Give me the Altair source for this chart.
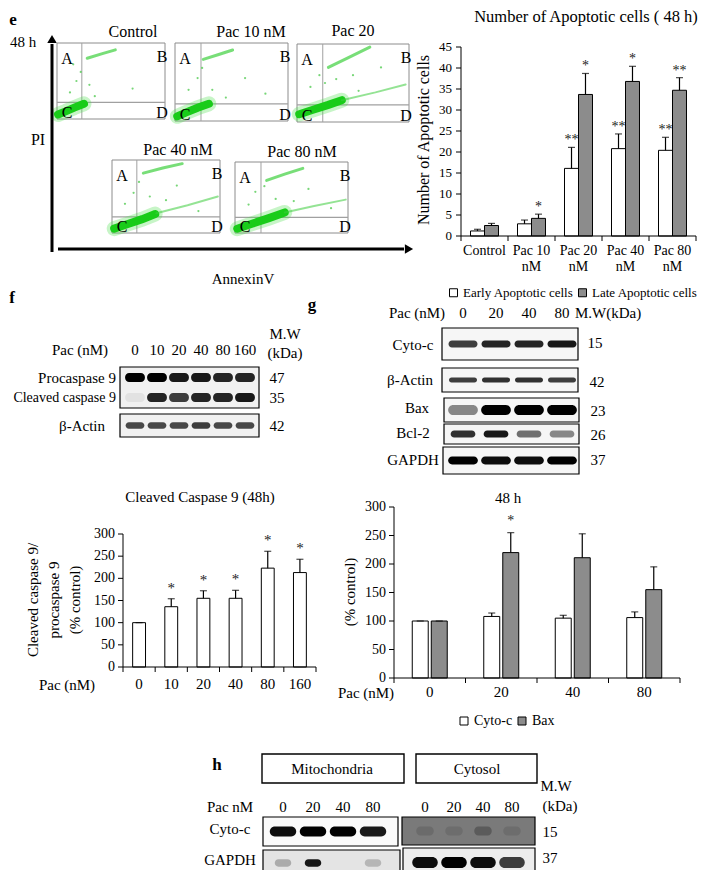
import altair as alt
import pandas as pd

W, H = 692, 862
FONT = "Liberation Serif"


def P(v):
    return v - 8


one = pd.DataFrame({"k": [0]})

# ---------------- data ----------------
flow_titles = ["Control", "Pac 10 nM", "Pac 20", "Pac 40 nM", "Pac 80 nM"]
flow_core = [
    [(0.01, 0.06), (0.08, 0.10), (0.16, 0.15), (0.25, 0.20)],
    [(0.02, 0.06), (0.10, 0.11), (0.20, 0.17), (0.30, 0.22)],
    [(0.02, 0.10), (0.15, 0.16), (0.28, 0.22), (0.40, 0.28)],
    [(0.02, 0.06), (0.14, 0.12), (0.28, 0.19), (0.40, 0.26)],
    [(0.02, 0.06), (0.15, 0.13), (0.30, 0.21), (0.44, 0.29)],
]
flow_upper = [
    [(0.28, 0.80), (0.42, 0.86), (0.54, 0.91)],
    [(0.25, 0.79), (0.38, 0.85), (0.51, 0.91)],
    [(0.28, 0.70), (0.45, 0.82), (0.65, 0.96)],
    [(0.29, 0.82), (0.47, 0.89), (0.65, 0.95)],
    [(0.28, 0.74), (0.44, 0.83), (0.60, 0.91)],
]
flow_lower = [
    [],
    [],
    [(0.40, 0.28), (0.70, 0.38), (0.97, 0.48)],
    [(0.41, 0.27), (0.70, 0.38), (0.98, 0.50)],
    [(0.44, 0.29), (0.70, 0.38), (0.98, 0.47)],
]
flow_spray = [
    [(0.12, 0.35), (0.18, 0.50), (0.22, 0.62), (0.30, 0.45), (0.15, 0.72), (0.35, 0.30), (0.70, 0.40)],
    [(0.12, 0.40), (0.20, 0.55), (0.24, 0.68), (0.33, 0.40), (0.45, 0.30), (0.80, 0.35), (0.62, 0.55)],
    [(0.12, 0.45), (0.20, 0.60), (0.25, 0.50), (0.35, 0.55), (0.50, 0.60), (0.55, 0.40), (0.75, 0.70)],
    [(0.12, 0.40), (0.20, 0.55), (0.25, 0.70), (0.35, 0.50), (0.50, 0.45), (0.60, 0.65), (0.80, 0.30)],
    [(0.12, 0.40), (0.18, 0.58), (0.26, 0.66), (0.36, 0.48), (0.52, 0.45), (0.65, 0.62), (0.85, 0.35)],
]
flow_title_xy = [(133, 32), (251, 32), (353, 31), (178, 150), (302, 152)]

e_groups = ["Control", "Pac 10 nM", "Pac 20 nM", "Pac 40 nM", "Pac 80 nM"]
e_types = ["Early Apoptotic cells", "Late Apoptotic cells"]
e_early = [1.2, 2.9, 16.1, 20.8, 20.4]
e_early_err = [0.4, 0.9, 5.0, 3.5, 3.1]
e_late = [2.5, 4.2, 33.7, 36.8, 34.7]
e_late_err = [0.5, 1.0, 5.0, 3.6, 3.0]
e_early_sig = ["", "", "**", "**", "**"]
e_late_sig = ["", "*", "*", "*", "**"]
e_yticks = [0, 5, 10, 15, 20, 25, 30, 35, 40, 45]

f_doses = ["0", "10", "20", "40", "80", "160"]
f_vals = [100, 136, 155, 155, 223, 213]
f_err = [0, 18, 17, 18, 38, 30]
f_sig = ["", "*", "*", "*", "*", "*"]
f_yticks = [0, 50, 100, 150, 200, 250, 300]

g_doses = ["0", "20", "40", "80"]
g_types = ["Cyto-c", "Bax"]
g_cyto = [100, 108, 105, 106]
g_cyto_err = [0, 6, 5, 10]
g_bax = [100, 220, 211, 155]
g_bax_err = [0, 35, 42, 40]
g_cyto_sig = ["", "", "", ""]
g_bax_sig = ["", "*", "", ""]
g_yticks = [0, 50, 100, 150, 200, 250, 300]

# blot band intensities (0..1)
f_pro = [1.0, 1.0, 0.9, 0.9, 0.85, 0.85]
f_cleaved = [0.06, 0.85, 0.75, 0.85, 0.85, 0.9]
f_actin = [0.7, 0.7, 0.7, 0.75, 0.7, 0.7]
g_blot_cytoc = [0.75, 0.85, 0.85, 0.9]
g_blot_actin = [0.75, 0.8, 0.8, 0.75]
g_blot_bax = [0.45, 1.0, 1.0, 1.0]
g_blot_bcl2 = [0.8, 0.9, 0.55, 0.45]
g_blot_gapdh = [1.0, 0.95, 0.95, 1.0]
h_lanes = ["0", "20", "40", "80"]
h_mito_cytoc = [0.95, 1.0, 1.0, 0.9]
h_mito_gapdh = [0.25, 0.9, 0.0, 0.2]
h_cyto_cytoc = [0.12, 0.1, 0.25, 0.1]
h_cyto_gapdh = [0.95, 1.0, 0.95, 0.75]


# ---------------- helpers ----------------
def label(txt, x, y, size=15, align="center", weight="normal", color="black", angle=0):
    return alt.Chart(one).mark_text(
        text=txt, font=FONT, fontSize=size, align=align, baseline="middle",
        fontWeight=weight, color=color, angle=angle,
    ).encode(x=alt.value(P(x)), y=alt.value(P(y)))


def box(x0, x1, y0, y1, fill="white", stroke="black", sw=1.2):
    return alt.Chart(one).mark_rect(fill=fill, stroke=stroke, strokeWidth=sw).encode(
        x=alt.value(P(x0)), x2=alt.value(P(x1)), y=alt.value(P(y0)), y2=alt.value(P(y1))
    )


def vline(x, y0, y1, color="black", sw=1):
    return alt.Chart(one).mark_rule(color=color, strokeWidth=sw).encode(
        x=alt.value(P(x)), y=alt.value(P(y0)), y2=alt.value(P(y1))
    )


def hline(y, x0, x1, color="black", sw=1):
    return alt.Chart(one).mark_rule(color=color, strokeWidth=sw).encode(
        y=alt.value(P(y)), x=alt.value(P(x0)), x2=alt.value(P(x1))
    )


def arrow_head(x, y, shape):
    return alt.Chart(one).mark_point(shape=shape, filled=True, color="black", size=90, opacity=1).encode(
        x=alt.value(P(x)), y=alt.value(P(y))
    )


flow_boxes = [(57, 165, 43, 119), (175, 288, 43, 121), (297, 409, 44, 122),
              (112, 220, 160, 233), (235, 348, 162, 233)]


def flow_panel(i):
    x0, x1, y0, y1 = flow_boxes[i]
    w, h = x1 - x0, y1 - y0
    recs = []
    for kind, traces in (("core", flow_core), ("upper", flow_upper), ("lower", flow_lower),
                         ("spray", flow_spray)):
        for o, (fx, fy) in enumerate(traces[i]):
            recs.append({"kind": kind, "o": o, "fx": fx, "fy": fy})
    df = pd.DataFrame(recs)
    xs = alt.X("fx:Q", scale=alt.Scale(domain=[0, 1], range=[P(x0), P(x1)], nice=False, zero=False), axis=None)
    ys = alt.Y("fy:Q", scale=alt.Scale(domain=[0, 1], range=[P(y1), P(y0)], nice=False, zero=False), axis=None)
    base = alt.Chart(df).encode(x=xs, y=ys, order="o:Q")
    layers = [
        box(x0, x1, y0, y1, fill="white", stroke="#8c8c8c", sw=1),
        vline(x0 + 0.23 * w, y0, y1, "#a0a0a0", 1),
        hline(y1 - 0.22 * h, x0, x1, "#a0a0a0", 1.2),
        base.transform_filter("datum.kind == 'spray'").mark_circle(color="#55cc55", size=5, opacity=0.8),
        base.transform_filter("datum.kind == 'core'").mark_line(
            color="#44dd44", strokeWidth=15, opacity=0.3, strokeCap="round"),
        base.transform_filter("datum.kind == 'core'").mark_line(
            color="#19cc19", strokeWidth=8, strokeCap="round"),
        base.transform_filter("datum.kind == 'upper'").mark_line(
            color="#2fcc2f", strokeWidth=3, opacity=0.65, strokeCap="round"),
    ]
    if flow_lower[i]:
        layers.append(base.transform_filter("datum.kind == 'lower'").mark_line(
            color="#3ccc3c", strokeWidth=2, opacity=0.55, strokeCap="round"))
    tx, ty = flow_title_xy[i]
    layers += [
        label("A", x0 + 10, y0 + 16, 16),
        label("B", x1 - 3, y0 + 14, 16),
        label("C", x0 + 10, y1 - 6, 16),
        label("D", x1 - 3, y1 - 6, 16),
        label(flow_titles[i], tx, ty, 16),
    ]
    return alt.layer(*layers)


def single_row_pad(frac):
    """paddings of a one-band scale so that the band covers `frac` of the range"""
    if frac >= 1 / 3:
        return 0.0, (1 / frac - 1) / 2
    return 1 - 2 * frac / (1 - frac), 1.0


def blot(lanes, rows, vals, bx, centers, bg="#f6f6f6", lane_pi=0.12, thick=0.3, row_pads=None,
         lane_label_y=None, radius=4):
    x0, x1, y0, y1 = bx
    c0, c1 = centers
    n = len(lanes)
    step = (c1 - c0) / (n - 1)
    recs = [{"lane": l, "row": r, "v": v} for r, vs in zip(rows, vals) for l, v in zip(lanes, vs)]
    df = pd.DataFrame(recs)
    xsc = alt.Scale(domain=lanes, range=[P(c0 - step / 2), P(c1 + step / 2)],
                    paddingInner=lane_pi, paddingOuter=lane_pi / 2)
    rpi, rpo = row_pads if row_pads else single_row_pad(thick)
    ysc = alt.Scale(domain=rows, range=[P(y0), P(y1)], paddingInner=rpi, paddingOuter=rpo)
    bands = alt.Chart(df).mark_rect(color="black", cornerRadius=radius).encode(
        x=alt.X("lane:N", scale=xsc, axis=None),
        y=alt.Y("row:N", scale=ysc, axis=None),
        opacity=alt.Opacity("v:Q", scale=None),
    )
    layers = [box(x0, x1, y0, y1, fill=bg), bands]
    if lane_label_y is not None:
        ldf = pd.DataFrame({"lane": lanes})
        layers.append(alt.Chart(ldf).mark_text(font=FONT, fontSize=15, color="black").encode(
            x=alt.X("lane:N", scale=xsc, axis=None),
            y=alt.value(P(lane_label_y)),
            text="lane:N",
        ))
    return alt.layer(*layers)


def axis_layers(groups, xsc, ysc, yticks, xr, y0px, y1px, size, xlab_top, xsize=None, line_h=16, ylab_gap=8):
    """Excel-like axes drawn through the chart's own scales."""
    x0, x1 = xr
    tdf = pd.DataFrame({"t": yticks})
    gdf = pd.DataFrame({"g": groups, "lab": [g.replace(" nM", "\nnM") for g in groups]})
    return [
        vline(x0, y1px, y0px, "black", 1),
        hline(y0px, x0, x1, "black", 1),
        alt.Chart(tdf).mark_rule(color="black", strokeWidth=1).encode(
            y=alt.Y("t:Q", scale=ysc, axis=None), x=alt.value(P(x0 - 5)), x2=alt.value(P(x0))),
        alt.Chart(tdf).mark_text(font=FONT, fontSize=size, align="right", baseline="middle", color="black").encode(
            y=alt.Y("t:Q", scale=ysc, axis=None), x=alt.value(P(x0 - ylab_gap)), text="t:Q"),
        alt.Chart(gdf).mark_rule(color="black", strokeWidth=1).encode(
            x=alt.X("g:N", scale=xsc, axis=None, bandPosition=0), y=alt.value(P(y0px)), y2=alt.value(P(y0px + 5))),
        vline(x1, y0px, y0px + 5, "black", 1),
        alt.Chart(gdf).mark_text(font=FONT, fontSize=xsize or size, align="center", baseline="top", lineBreak="\n",
                                 lineHeight=line_h, color="black").encode(
            x=alt.X("g:N", scale=xsc, axis=None), y=alt.value(P(xlab_top)), text="lab:N"),
    ]


def grouped_bars(groups, types, vals_list, err_list, sig_list, xr, y0px, y1px, ymax, yticks,
                 colors, pin, pout, legend_xy, size=14, xsize=None, xlab_top=None, star_dy=-3,
                 legend_size=14, ylab_gap=8):
    rows = []
    for t, vals, errs, sigs in zip(types, vals_list, err_list, sig_list):
        for g, v, e, s in zip(groups, vals, errs, sigs):
            rows.append({"group": g, "type": t, "val": v, "top": v + e, "sig": s})
    df = pd.DataFrame(rows)
    xsc = alt.Scale(domain=groups, range=[P(xr[0]), P(xr[1])], paddingInner=0, paddingOuter=0)
    xosc = alt.Scale(domain=types, paddingInner=pin, paddingOuter=pout)
    ysc = alt.Scale(domain=[0, ymax], range=[P(y0px), P(y1px)], nice=False, zero=True)
    enc = dict(x=alt.X("group:N", scale=xsc, axis=None), xOffset=alt.XOffset("type:N", scale=xosc))
    bars = alt.Chart(df).mark_bar(stroke="black", strokeWidth=1).encode(
        y=alt.Y("val:Q", scale=ysc, axis=None),
        color=alt.Color("type:N", scale=alt.Scale(domain=types, range=colors),
                        legend=alt.Legend(orient="none", legendX=P(legend_xy[0]), legendY=P(legend_xy[1]),
                                          direction="horizontal", title=None, symbolType="square",
                                          symbolStrokeColor="black", symbolStrokeWidth=1, symbolSize=64,
                                          labelFontSize=legend_size, columnPadding=2, labelOffset=3,
                                          padding=0)),
        **enc,
    )
    rules = alt.Chart(df).mark_rule(color="black", strokeWidth=1.2).encode(
        y=alt.Y("val:Q", scale=ysc, axis=None), y2="top:Q", **enc)
    caps = alt.Chart(df).mark_tick(color="black", thickness=1.2, size=7).encode(
        y=alt.Y("top:Q", scale=ysc, axis=None), **enc)
    stars = alt.Chart(df).mark_text(font=FONT, fontSize=14, baseline="alphabetic", dy=star_dy,
                                    color="#222222").encode(
        y=alt.Y("top:Q", scale=ysc, axis=None), text="sig:N", **enc)
    ax = axis_layers(groups, xsc, ysc, yticks, xr, y0px, y1px, size, xlab_top, xsize=xsize, ylab_gap=ylab_gap)
    return alt.layer(bars, rules, caps, stars, *ax)


# ---------------- panel e ----------------
layers = []
for i in range(5):
    layers.append(flow_panel(i))
layers += [
    vline(52, 252, 44, "black", 3), arrow_head(52, 39, "triangle-up"),
    hline(249, 58, 404, "black", 3), arrow_head(409, 249, "triangle-right"),
    label("e", 13, 20, 17, weight="bold"),
    label("48 h", 23, 42, 15),
    label("PI", 38, 140, 16),
    label("AnnexinV", 243, 279, 15),
    label("Number of  Apoptotic cells ( 48 h)", 586, 17, 16.5),
    label("Number of Apoptotic cells", 424, 140, 16, angle=270),
]
layers.append(grouped_bars(
    e_groups, e_types, [e_early, e_late], [e_early_err, e_late_err], [e_early_sig, e_late_sig],
    (461, 696), 236, 47, 45, e_yticks, ["white", "#8c8c8c"], 0, 0.68, (447, 286),
    size=13, xsize=14, xlab_top=244, star_dy=-3, legend_size=13, ylab_gap=9,
))

# ---------------- panel f ----------------
layers += [
    label("f", 12, 298, 17, weight="bold"),
    label("Pac (nM)", 80, 350, 15),
    label("M.W", 285, 334, 15),
    label("(kDa)", 285, 353, 15),
    blot(f_doses, ["Procaspase 9", "Cleaved caspase 9"], [f_pro, f_cleaved], (120, 259, 367, 408),
         (135, 245), bg="#f1f1f1", lane_pi=0.1, row_pads=(0.55, 0.3), lane_label_y=350),
    blot(f_doses, ["β-Actin"], [f_actin], (120, 259, 414, 437), (135, 245), bg="#f1f1f1",
         lane_pi=0.15, thick=0.28),
    label("Procaspase 9", 116, 378, 15, align="right"),
    label("Cleaved caspase 9", 116, 398, 14, align="right"),
    label("β-Actin", 82, 426, 15),
    label("47", 277, 378, 15), label("35", 277, 398, 15), label("42", 277, 426, 15),
    label("Cleaved Caspase 9 (48h)", 200, 497, 15),
    label("Pac (nM)", 67, 685, 15),
    label("Cleaved caspase 9/", 33, 600, 15, angle=270),
    label("procaspase 9", 54, 600, 15, angle=270),
    label("(% control)", 75, 600, 15, angle=270),
]
f_df = pd.DataFrame({"dose": f_doses, "val": f_vals, "top": [v + e for v, e in zip(f_vals, f_err)],
                     "sig": f_sig})
fxs = alt.Scale(domain=f_doses, range=[P(123), P(316)], paddingInner=0, paddingOuter=0)
fys = alt.Scale(domain=[0, 300], range=[P(667), P(534)], nice=False)
fx = alt.X("dose:N", scale=fxs, axis=None)
f_bars = alt.Chart(f_df).mark_bar(fill="white", stroke="black", strokeWidth=1, width={"band": 0.4}).encode(
    x=fx, y=alt.Y("val:Q", scale=fys, axis=None))
f_rules = alt.Chart(f_df).mark_rule(color="black", strokeWidth=1.2).encode(
    x=fx, y=alt.Y("val:Q", scale=fys, axis=None), y2="top:Q")
f_caps = alt.Chart(f_df).mark_tick(color="black", thickness=1.2, size=7).encode(
    x=fx, y=alt.Y("top:Q", scale=fys, axis=None))
f_stars = alt.Chart(f_df).mark_text(font=FONT, fontSize=15, baseline="alphabetic", dy=-6, color="#222222").encode(
    x=fx, y=alt.Y("top:Q", scale=fys, axis=None), text="sig:N")
f_ax = axis_layers(f_doses, fxs, fys, f_yticks, (123, 316), 667, 534, 14, 677, xsize=15)
layers.append(alt.layer(f_bars, f_rules, f_caps, f_stars, *f_ax))

# ---------------- panel g ----------------
g_lane_c = (463, 562)
layers += [
    label("g", 312, 305, 17, weight="bold"),
    label("Pac (nM)", 417, 313, 15),
    label("M.W(kDa)", 575, 313, 15, align="left"),
    blot(g_doses, ["Cyto-c"], [g_blot_cytoc], (442, 578, 328, 360), g_lane_c, lane_pi=0.12,
         thick=0.22, lane_label_y=313),
    blot(g_doses, ["β-Actin"], [g_blot_actin], (442, 578, 368, 392), g_lane_c, lane_pi=0.15,
         thick=0.21),
    blot(g_doses, ["Bax"], [g_blot_bax], (444, 579, 398, 422), g_lane_c, lane_pi=0.1,
         thick=0.42, radius=6),
    blot(g_doses, ["Bcl-2"], [g_blot_bcl2], (444, 579, 424, 444), g_lane_c, lane_pi=0.25,
         thick=0.36),
    blot(g_doses, ["GAPDH"], [g_blot_gapdh], (443, 579, 447, 474), g_lane_c, lane_pi=0.1,
         thick=0.29),
    label("Cyto-c", 413, 345, 15), label("15", 595, 343, 15),
    label("β-Actin", 410, 380, 15), label("42", 597, 382, 15),
    label("Bax", 417, 408, 15), label("23", 598, 411, 15),
    label("Bcl-2", 413, 433, 15), label("26", 598, 435, 15),
    label("GAPDH", 413, 460, 15), label("37", 598, 460, 15),
    label("48 h", 508, 498, 15),
    label("Pac (nM)", 366, 693, 15),
    label("(% control)", 350, 592, 15, angle=270),
]
layers.append(grouped_bars(
    g_doses, g_types, [g_cyto, g_bax], [g_cyto_err, g_bax_err], [g_cyto_sig, g_bax_sig],
    (394, 680), 678, 507, 300, g_yticks, ["white", "#8c8c8c"], 0.16, 0.96, (457, 714),
    size=14, xsize=15, xlab_top=685, star_dy=-8, legend_size=14, ylab_gap=8,
))

# ---------------- panel h ----------------
layers += [
    label("h", 217, 765, 17, weight="bold"),
    box(262, 404, 754, 783, fill="white", sw=1.4),
    box(416, 537, 754, 783, fill="white", sw=1.4),
    label("Mitochondria", 332, 769, 15),
    label("Cytosol", 477, 769, 15),
    label("Pac nM", 230, 807, 15),
    label("M.W", 556, 786, 15),
    label("(kDa)", 560, 806, 15),
    blot(h_lanes, ["Cyto-c"], [h_mito_cytoc], (263, 398, 817, 846), (283, 373), bg="#fafafa",
         lane_pi=0.12, thick=0.34, lane_label_y=807, radius=6),
    blot(h_lanes, ["GAPDH"], [h_mito_gapdh], (263, 400, 850, 876), (283, 373), bg="#e4e4e4",
         lane_pi=0.45, thick=0.28),
    blot(h_lanes, ["Cyto-c"], [h_cyto_cytoc], (402, 535, 817, 845), (425, 512), bg="#7a7a7a",
         lane_pi=0.4, thick=0.33, lane_label_y=807),
    blot(h_lanes, ["GAPDH"], [h_cyto_gapdh], (403, 535, 848, 877), (425, 512), bg="#ededed",
         lane_pi=0.12, thick=0.38, radius=6),
    label("Cyto-c", 230, 829, 15),
    label("GAPDH", 230, 860, 15),
    label("15", 550, 832, 15),
    label("37", 550, 858, 15),
]

chart = alt.layer(*layers).properties(
    width=W, height=H, autosize=alt.AutoSizeParams(type="none"), padding=0
).resolve_scale(
    x="independent", y="independent", xOffset="independent", color="independent", opacity="independent"
).configure_legend(
    labelFont=FONT, labelColor="black",
).configure_view(stroke=None)

chart.save("out.html", embed_options={"renderer": "svg", "actions": False})
